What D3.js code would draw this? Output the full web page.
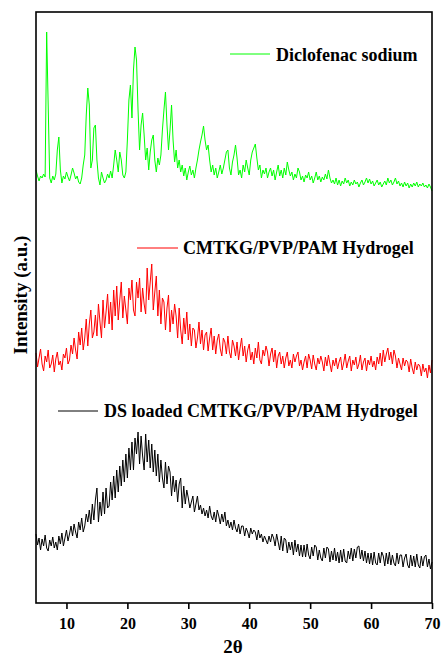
<!DOCTYPE html>
<html>
<head>
<meta charset="utf-8">
<script src="https://cdn.jsdelivr.net/npm/d3@7"></script>
<style>
body{margin:0;background:#fff;}
svg{display:block;}
text{font-family:"Liberation Serif","Times New Roman",serif;font-weight:bold;fill:#000;}
</style>
</head>
<body>
<svg id="chart" width="443" height="656"></svg>
<script>
// 2θ grid: 5 to 70 in steps of 0.25 degrees
const thetaStart = 5, thetaStep = 0.25;
const xTicks = [10, 20, 30, 40, 50, 60, 70];
const seriesNames = ["Diclofenac sodium", "CMTKG/PVP/PAM Hydrogel", "DS loaded CMTKG/PVP/PAM Hydrogel"];
const seriesColors = ["#00ff00", "#ff0000", "#000000"];

// Intensities (a.u., stacked as plotted), one group per degree (4 samples)
const diclofenac = [
430,424,419,424, 422,426,423,568, 495,422,417,424, 420,426,450,463, 430,417,424,421,
428,423,419,425, 432,427,421,424, 418,416,422,435, 445,485,512,495, 432,440,472,475,
440,422,415,428, 422,417,420,426, 422,429,422,435, 450,440,428,448, 440,425,422,428,
460,500,515,482, 530,553,540,490, 450,475,487,465, 440,452,430,448, 460,465,440,428,
442,435,445,470, 490,508,475,450, 470,495,460,438, 450,432,440,428, 435,424,432,420,
428,434,425,430, 422,432,440,450, 458,465,474,460, 450,455,440,428, 435,425,432,422,
428,435,426,432, 440,448,450,432, 425,438,445,455, 442,425,430,422, 435,428,440,432,
425,440,448,452, 456,442,430,435, 422,430,426,432, 422,428,432,424, 430,420,428,435,
424,430,422,432, 425,438,430,424, 428,420,426,422, 432,428,420,424, 418,425,422,428,
420,424,417,422, 428,420,424,418, 423,420,426,421, 430,422,417,420, 416,422,415,420,
414,419,416,422, 417,420,414,418, 415,420,416,418, 413,417,420,415, 418,422,417,421,
416,419,414,417, 420,415,418,413, 416,419,415,422, 417,420,415,418, 422,416,419,414,
417,413,418,414, 417,412,416,413, 417,414,418,413, 416,414,417,413, 415,412,416,413,
409];

const hydrogel = [
247,233,242,251, 236,229,244,238, 250,232,236,245, 228,241,248,235, 239,230,246,242,
252,236,240,255, 246,262,250,241, 268,255,272,250, 262,281,254,276, 290,262,268,285,
264,296,278,262, 300,272,288,306, 276,298,270,310, 284,314,280,300, 318,282,304,290,
276,312,300,320, 290,284,318,302, 322,288,312,296, 286,332,300,318, 336,290,308,324,
284,310,276,302, 298,270,292,305, 268,290,276,296, 284,262,292,270, 256,282,266,288,
260,276,254,272, 270,252,262,278, 256,270,250,265, 268,249,262,272, 250,264,246,260,
266,251,244,262, 258,246,264,248, 242,260,254,244, 258,240,252,262, 244,254,238,250,
256,240,248,236, 252,242,258,240, 236,250,244,254, 248,234,246,252, 238,250,232,244,
248,236,244,232, 242,248,234,240, 232,246,238,244, 248,234,240,230, 238,244,232,246,
240,231,245,236, 230,242,236,244, 238,229,243,234, 245,236,228,240, 234,242,231,238,
243,230,237,246, 232,239,244,229, 240,235,243,231, 236,245,230,238, 242,229,240,235,
244,233,239,230, 243,236,247,234, 250,238,246,252, 240,248,236,250, 244,232,242,236,
230,242,234,240, 238,228,241,232, 226,238,230,236, 234,224,236,228, 232,222,235,227,
240];

const dsLoaded = [
66,55,62,50, 61,54,65,52, 49,60,54,63, 52,58,50,64, 56,67,54,62,
70,59,66,74, 64,76,68,62, 78,70,82,68, 74,86,78,90, 76,96,80,100,
112,78,98,84, 108,86,112,92, 94,118,100,124, 102,130,108,134, 114,140,118,146,
122,152,130,158, 130,162,146,168, 136,164,144,130, 166,138,160,132, 156,128,150,124,
146,118,140,122, 112,138,116,134, 128,104,124,108, 120,98,116,122, 92,114,96,110,
102,92,98,104, 88,96,104,90, 95,86,92,84, 90,82,94,84, 80,88,78,90,
84,76,86,78, 88,74,80,72, 78,70,80,72, 68,76,66,74, 74,64,72,68,
62,72,66,70, 68,60,70,62, 66,58,64,60, 56,64,58,66, 62,54,66,58,
50,64,49,62, 60,47,58,50, 58,45,60,48, 56,44,55,43, 55,43,56,45,
41,53,44,55, 53,40,50,42, 39,52,42,53, 51,38,49,40, 52,39,48,37,
50,38,51,39, 37,49,41,52, 39,51,42,53, 54,41,50,39, 49,37,47,36,
47,35,48,37, 35,47,37,48, 44,34,47,36, 48,35,45,37, 34,47,36,45,
45,33,42,46, 35,32,45,34, 44,33,46,35, 32,44,34,43, 45,33,41,31,
38];

const allSeries = [diclofenac, hydrogel, dsLoaded];

const m = {left: 36, right: 432, top: 12, bottom: 603};
const svg = d3.select("#chart");

const x = d3.scaleLinear().domain([5, 70]).range([m.left, m.right]);
const y = d3.scaleLinear().domain([-3, 588]).range([m.bottom, m.top]);

const line = d3.line()
  .x((d, i) => x(thetaStart + i * thetaStep))
  .y(d => y(d));

const plot = svg.append("g");
allSeries.forEach((s, k) => {
  plot.append("path")
    .datum(s)
    .attr("fill", "none")
    .attr("stroke", seriesColors[k])
    .attr("stroke-width", 1)
    .attr("stroke-linejoin", "round")
    .attr("d", line);
});

// frame
svg.append("rect")
  .attr("x", m.left).attr("y", m.top)
  .attr("width", m.right - m.left).attr("height", m.bottom - m.top)
  .attr("fill", "none").attr("stroke", "#000").attr("stroke-width", 1.6);

// x axis
const xAxis = svg.append("g")
  .attr("transform", `translate(0,${m.bottom})`)
  .call(d3.axisBottom(x).tickValues(xTicks).tickSize(6).tickSizeOuter(0).tickFormat(d3.format("d")));
xAxis.select(".domain").remove();
xAxis.selectAll(".tick line").attr("stroke", "#000").attr("stroke-width", 1.6);
xAxis.selectAll(".tick text")
  .attr("y", 26).attr("dy", null)
  .style("font-family", '"Liberation Serif","Times New Roman",serif')
  .style("font-weight", "bold").style("font-size", "16px");

// axis titles
svg.append("text")
  .attr("x", 233).attr("y", 653)
  .attr("text-anchor", "middle")
  .style("font-size", "19px")
  .text("2θ");

svg.append("text")
  .attr("transform", "translate(27,295) rotate(-90)")
  .attr("text-anchor", "middle")
  .style("font-size", "19px")
  .text("Intensity (a.u.)");

// legends
const legends = [
  {x1: 230, x2: 270, ly: 54, tx: 276, ty: 61},
  {x1: 137, x2: 178, ly: 248, tx: 183, ty: 254},
  {x1: 58, x2: 98, ly: 411, tx: 104, ty: 417}
];
legends.forEach((l, k) => {
  svg.append("line")
    .attr("x1", l.x1).attr("x2", l.x2).attr("y1", l.ly).attr("y2", l.ly)
    .attr("stroke", seriesColors[k]).attr("stroke-width", 1);
  svg.append("text")
    .attr("x", l.tx).attr("y", l.ty)
    .style("font-size", "18px")
    .text(seriesNames[k]);
});
</script>
</body>
</html>
